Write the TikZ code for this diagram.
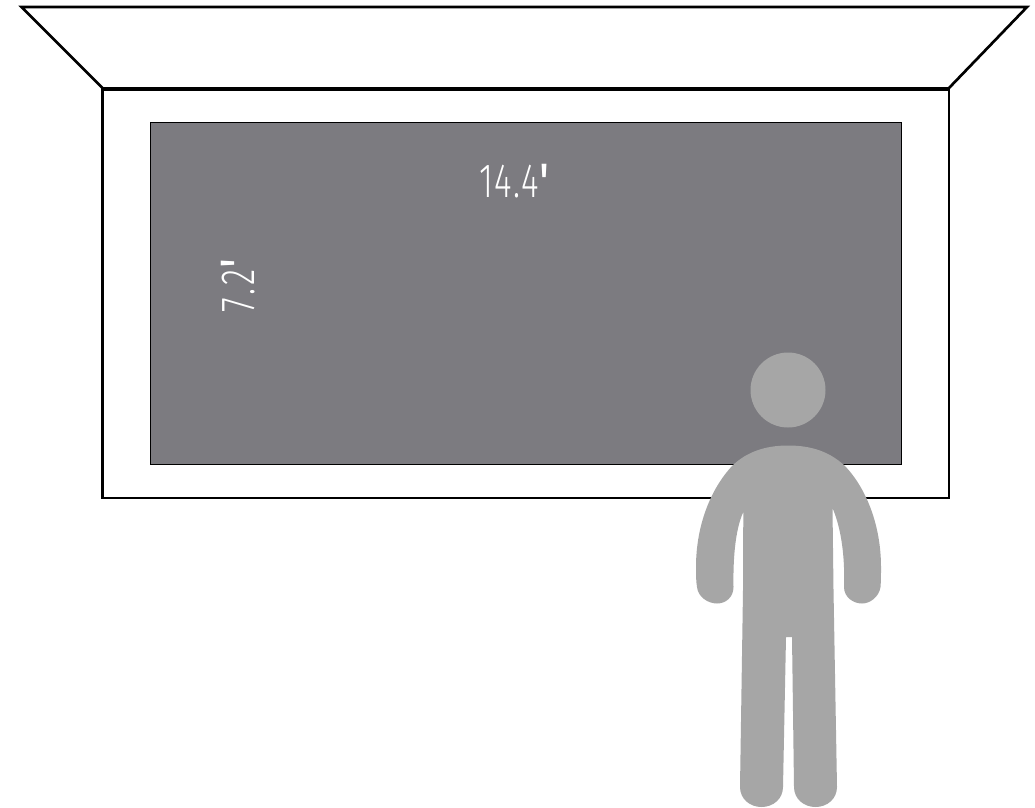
\documentclass[tikz,border=0pt]{standalone}
\usepackage{fontspec}
\usepackage{graphicx}
\setmainfont{Fira Sans}
\newfontfamily\dimfont{Fira Sans Light}
\definecolor{screenc}{HTML}{7C7B80}
\definecolor{personc}{HTML}{A6A6A6}
\tikzset{
  wallline/.style={draw=black,line width=2pt,line join=miter},
  dimlabel/.style={text=white,inner sep=0pt,font=\dimfont\fontsize{36}{36}\selectfont},
}
\newcommand{\dimtxt}[2]{\scalebox{0.70}[1]{#1\kern#2{\fontspec{Fira Sans}\bfseries'}}}
\begin{document}
\begin{tikzpicture}[x=0.75pt,y=-0.75pt]
\useasboundingbox (0,0) rectangle (1035,807);
\fill[white] (0,0) rectangle (1035,807);
% ceiling
\draw[wallline] (102.5,88) -- (21.5,7) -- (1027,7) -- (949,88);
% wall
\draw[wallline] (102.5,89) rectangle (949,498);
\draw[draw=black,line width=2.7pt] (102,89) -- (949,89);
% screen
\draw[fill=screenc,draw=black,line width=0.75pt] (150,122) rectangle (901.5,464.5);
\node[dimlabel] (wlabel) at (514,181) {\dimtxt{1\kern0.03em 4\kern0.05em.\kern0.05em 4}{0.05em}};
\node[dimlabel,rotate=90] (hlabel) at (238,286) {\dimtxt{7\kern0.09em.\kern0.09em2}{0.06em}};
% person
\fill[personc] (788,390) circle (37.5);
\fill[personc] (788,445.5)
  .. controls (812,445.5) and (830,452) .. (845,466)
  .. controls (866,488) and (881,525) .. (881,567)
  .. controls (881,575) and (881,581) .. (880.5,587)
  .. controls (879,597) and (870,603.5) .. (862,603.5)
  .. controls (853,603.5) and (844,597) .. (844,587)
  .. controls (845,560) and (842,530) .. (832.5,508)
  -- (833.5,590)
  -- (837,787)
  .. controls (837,799) and (827,807) .. (815.5,807)
  .. controls (804,807) and (794,799) .. (794,787)
  -- (792,637) -- (786,637)
  -- (783,787)
  .. controls (783,799) and (773,807) .. (761.5,807)
  .. controls (750,807) and (740,799) .. (740,787)
  -- (743,590)
  -- (743.3,512)
  .. controls (735,530) and (733,560) .. (733.5,587)
  .. controls (733.5,597) and (726,603.5) .. (717,603.5)
  .. controls (708,603.5) and (698,597) .. (697,587)
  .. controls (696,581) and (696,575) .. (696,567)
  .. controls (696,525) and (711,488) .. (733,465)
  .. controls (747,452) and (765,445.5) .. (788,445.5) -- cycle;
\end{tikzpicture}
\end{document}
